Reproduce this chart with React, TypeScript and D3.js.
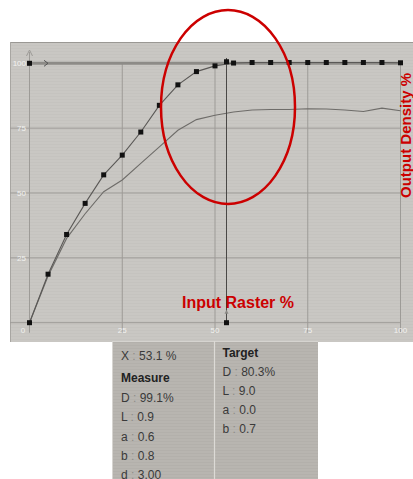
import React from 'react';
import * as d3 from 'd3';

// input raster steps (%) and the two density curves
const inputSteps = [0, 5, 10, 15, 20, 25, 30, 35, 40, 45, 50, 55, 60, 65, 70, 75, 80, 85, 90, 95, 100];
const measureDensity = [0, 18.7, 34, 46, 57, 64.6, 73.5, 83.8, 91.7, 96.8, 99, 100.1, 100.3, 100.3, 100.3, 100.3, 100.3, 100.3, 100.3, 100.3, 100.2];
const targetDensity = [0, 18, 32.5, 42, 50.5, 55, 61.4, 67.8, 74.2, 78.3, 80, 81.2, 82, 82.2, 82.2, 82.5, 82.4, 82, 81.4, 82.7, 81.7];
const gridTicks = [0, 25, 50, 75, 100];
const cursorX = 53.1;
const cursorY = 100.6;

const measureRows = ['D : 99.1%', 'L : 0.9', 'a : 0.6', 'b : 0.8', 'd : 3.00'];
const targetRows = ['D : 80.3%', 'L : 9.0', 'a : 0.0', 'b : 0.7'];

const W = 413;
const H = 479;
const FONT = '"Liberation Sans", Arial, sans-serif';

function Row({ x, y, text }: { x: number; y: number; text: string }) {
  const [k, v] = text.split(' : ');
  return (
    <text x={x} y={y} fontSize={12} fill="#3a3a3a" fontFamily={FONT}>
      {k}
      <tspan fill="#8e8c88"> : </tspan>
      {v}
    </text>
  );
}

export default function App() {
  const x = d3.scaleLinear().domain([0, 100]).range([29.5, 400.5]);
  const y = d3.scaleLinear().domain([0, 100]).range([322.7, 63.3]);

  const pts = (vals: number[]) => inputSteps.map((s, i) => [s, vals[i]] as [number, number]);
  const line = d3.line<[number, number]>().x(d => x(d[0])).y(d => y(d[1]));

  return (
    <svg width={W} height={H} style={{ position: 'absolute', left: 0, top: 0, background: '#fff' }}>
      <defs>
        <pattern id="stripes" width="4" height="3" patternUnits="userSpaceOnUse">
          <rect width="4" height="3" fill="#c9c7c3" />
          <rect width="4" height="1" fill="#c5c3bf" />
        </pattern>
        <pattern id="stripes2" width="4" height="3" patternUnits="userSpaceOnUse">
          <rect width="4" height="3" fill="#b8b5b0" />
          <rect width="4" height="1" fill="#b3b0ab" />
        </pattern>
      </defs>

      {/* chart panel */}
      <rect x={10} y={42} width={W - 10} height={300} fill="url(#stripes)" />
      <line x1={10} x2={W} y1={42.5} y2={42.5} stroke="#9a9894" />
      <line x1={10.5} x2={10.5} y1={42} y2={342} stroke="#a8a6a2" />

      {/* grid */}
      {gridTicks.map(t => (
        <line key={'v' + t} x1={x(t)} x2={x(t)} y1={t === 0 ? 52 : y(100)} y2={y(0) + 10}
          stroke="#9d9b97" strokeWidth={1} />
      ))}
      {gridTicks.filter(t => t < 100).map(t => (
        <line key={'h' + t} x1={10} x2={x(100)} y1={y(t)} y2={y(t)} stroke="#9d9b97" strokeWidth={1} />
      ))}
      {/* top axis band at 100 */}
      <line x1={x(0)} x2={x(100)} y1={y(100)} y2={y(100)} stroke="#8d8b87" strokeWidth={3} />
      <path d={`M${x(0) - 3},56 L${x(0)},50 L${x(0) + 3},56`} fill="none" stroke="#9d9b97" />
      <path d={`M44,${y(100) - 3} L48,${y(100)} L44,${y(100) + 3}`} fill="none" stroke="#555" />

      {/* tick labels */}
      {gridTicks.map(t => (
        <text key={'yl' + t} x={26} y={y(t) + 3} textAnchor="end" fontSize={8} fill="#f2f2f0" fontFamily={FONT}>
          {t === 0 ? '' : t}
        </text>
      ))}
      {gridTicks.map(t => (
        <text key={'xl' + t} x={t === 0 ? 23 : x(t)} y={333} textAnchor="middle" fontSize={8} fill="#f2f2f0" fontFamily={FONT}>
          {t}
        </text>
      ))}

      {/* curves */}
      <path d={line(pts(targetDensity)) || ''} fill="none" stroke="#6e6c69" strokeWidth={1.1} />
      <path d={line(pts(measureDensity)) || ''} fill="none" stroke="#5a5856" strokeWidth={1.1} />
      {pts(measureDensity).map((d, i) => (
        <rect key={i} x={x(d[0]) - 2.5} y={y(d[1]) - 2.5} width={5} height={5} fill="#111" />
      ))}
      <rect x={x(0) - 2.5} y={y(100) - 2.5} width={5} height={5} fill="#111" />

      {/* cursor */}
      <line x1={x(cursorX)} x2={x(cursorX)} y1={58} y2={y(0)} stroke="#4a4846" strokeWidth={1} />
      <rect x={x(cursorX) - 2.5} y={y(cursorY) - 2.5} width={5} height={5} fill="#111" />
      <rect x={x(cursorX) - 2.5} y={y(0) - 2.5} width={5} height={5} fill="#111" />
      <path d={`M${x(cursorX) - 2},${y(0) - 9} L${x(cursorX)},${y(0) - 13} L${x(cursorX) + 2},${y(0) - 9} Z`} fill="#8a8884" />

      {/* annotations */}
      <ellipse cx={228} cy={107} rx={67} ry={97} fill="none" stroke="#cc0000" strokeWidth={2.5} />
      <text x={182} y={308} fontSize={16} fontWeight="bold" fill="#cc0000" fontFamily={FONT}>Input Raster %</text>
      <text transform="translate(411,198) rotate(-90)" fontSize={15} fontWeight="bold" fill="#cc0000" fontFamily={FONT}>
        Output Density %
      </text>

      {/* readout panel */}
      <rect x={112} y={341} width={206} height={H - 341} fill="url(#stripes2)" />
      <line x1={112.5} x2={112.5} y1={341} y2={H} stroke="#d6d4d0" />
      <line x1={112} x2={318} y1={341.5} y2={341.5} stroke="#d6d4d0" />
      <line x1={214.5} x2={214.5} y1={341} y2={H} stroke="#dcdad6" strokeWidth={1.2} />

      <Row x={121} y={360} text={`X : ${cursorX} %`} />
      <text x={121} y={382} fontSize={12} fontWeight="bold" fill="#222" fontFamily={FONT}>Measure</text>
      {measureRows.map((r, i) => (
        <Row key={r} x={121} y={402 + i * 19.3} text={r} />
      ))}
      <text x={222.5} y={357} fontSize={12} fontWeight="bold" fill="#222" fontFamily={FONT}>Target</text>
      {targetRows.map((r, i) => (
        <Row key={r} x={222.5} y={375.5 + i * 19.3} text={r} />
      ))}
    </svg>
  );
}
